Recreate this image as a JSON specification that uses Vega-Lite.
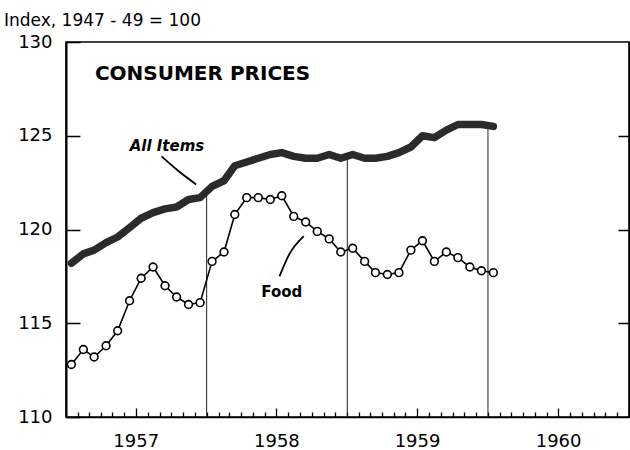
{
  "$schema": "https://vega.github.io/schema/vega-lite/v6.json",
  "width": 563,
  "height": 375,
  "autosize": {"type": "none"},
  "padding": {"left": 66, "top": 42, "right": 1, "bottom": 33},
  "background": "white",
  "config": {
    "view": {"stroke": "black", "strokeWidth": 1.5},
    "font": "DejaVu Sans",
    "axis": {"grid": false, "domainColor": "black", "tickColor": "black", "labelColor": "black", "title": null}
  },
  "title": {
    "text": "Index,  1947 - 49 = 100",
    "anchor": "start",
    "frame": "group",
    "dx": -62,
    "offset": 3,
    "font": "DejaVu Sans",
    "fontSize": 17,
    "fontWeight": "normal",
    "color": "black"
  },
  "datasets": {
    "prices": [
      {"date": "1957-01-15", "all": 118.2, "food": 112.8},
      {"date": "1957-02-15", "all": 118.7, "food": 113.6},
      {"date": "1957-03-15", "all": 118.9, "food": 113.2},
      {"date": "1957-04-15", "all": 119.3, "food": 113.8},
      {"date": "1957-05-15", "all": 119.6, "food": 114.6},
      {"date": "1957-06-15", "all": 120.1, "food": 116.2},
      {"date": "1957-07-15", "all": 120.6, "food": 117.4},
      {"date": "1957-08-15", "all": 120.9, "food": 118.0},
      {"date": "1957-09-15", "all": 121.1, "food": 117.0},
      {"date": "1957-10-15", "all": 121.2, "food": 116.4},
      {"date": "1957-11-15", "all": 121.6, "food": 116.0},
      {"date": "1957-12-15", "all": 121.7, "food": 116.1},
      {"date": "1958-01-15", "all": 122.3, "food": 118.3},
      {"date": "1958-02-15", "all": 122.6, "food": 118.8},
      {"date": "1958-03-15", "all": 123.4, "food": 120.8},
      {"date": "1958-04-15", "all": 123.6, "food": 121.7},
      {"date": "1958-05-15", "all": 123.8, "food": 121.7},
      {"date": "1958-06-15", "all": 124.0, "food": 121.6},
      {"date": "1958-07-15", "all": 124.1, "food": 121.8},
      {"date": "1958-08-15", "all": 123.9, "food": 120.7},
      {"date": "1958-09-15", "all": 123.8, "food": 120.4},
      {"date": "1958-10-15", "all": 123.8, "food": 119.9},
      {"date": "1958-11-15", "all": 124.0, "food": 119.5},
      {"date": "1958-12-15", "all": 123.8, "food": 118.8},
      {"date": "1959-01-15", "all": 124.0, "food": 119.0},
      {"date": "1959-02-15", "all": 123.8, "food": 118.3},
      {"date": "1959-03-15", "all": 123.8, "food": 117.7},
      {"date": "1959-04-15", "all": 123.9, "food": 117.6},
      {"date": "1959-05-15", "all": 124.1, "food": 117.7},
      {"date": "1959-06-15", "all": 124.4, "food": 118.9},
      {"date": "1959-07-15", "all": 125.0, "food": 119.4},
      {"date": "1959-08-15", "all": 124.9, "food": 118.3},
      {"date": "1959-09-15", "all": 125.3, "food": 118.8},
      {"date": "1959-10-15", "all": 125.6, "food": 118.5},
      {"date": "1959-11-15", "all": 125.6, "food": 118.0},
      {"date": "1959-12-15", "all": 125.6, "food": 117.8},
      {"date": "1960-01-15", "all": 125.5, "food": 117.7}
    ],
    "rules": [
      {"date": "1958-01-01", "base": 110, "top": 122.0},
      {"date": "1959-01-01", "base": 110, "top": 123.9},
      {"date": "1960-01-01", "base": 110, "top": 125.5}
    ],
    "notes": [
      {"kind": "heading", "text": "CONSUMER PRICES", "date": "1957-03-17", "value": 128.0},
      {"kind": "series", "text": "All Items", "date": "1957-09-20", "value": 124.2},
      {"kind": "food", "text": "Food", "date": "1958-07-15", "value": 116.4}
    ],
    "leaders": [
      {"id": "all", "date": "1957-09-06", "value": 123.9},
      {"id": "all", "date": "1957-10-15", "value": 123.2},
      {"id": "all", "date": "1957-12-05", "value": 122.4},
      {"id": "food", "date": "1958-07-09", "value": 117.5},
      {"id": "food", "date": "1958-08-04", "value": 118.7},
      {"id": "food", "date": "1958-09-10", "value": 119.65}
    ]
  },
  "layer": [
    {
      "data": {"name": "rules"},
      "mark": {"type": "rule", "color": "#222222", "strokeWidth": 1},
      "encoding": {
        "x": {
          "field": "date", "type": "temporal",
          "scale": {"type": "utc", "domain": [{"year": 1957, "month": 1, "date": 1, "utc": true}, {"year": 1961, "month": 1, "date": 1, "utc": true}]},
          "axis": {
            "orient": "bottom",
            "ticks": true,
            "tickCount": {"interval": "month", "step": 1},
            "tickSize": {"condition": {"test": "utcmonth(datum.value) == 6", "value": -9}, "value": -5},
            "tickWidth": 1.3,
            "domainWidth": 1.5,
            "labelExpr": "utcmonth(datum.value) == 6 ? utcFormat(datum.value, '%Y') : ''",
            "labelOverlap": false,
            "labelFlush": false,
            "labelBound": false,
            "labelPadding": 24,
            "labelFontSize": 18,
            "labelFont": "DejaVu Sans"
          }
        },
        "y": {"field": "base", "type": "quantitative", "scale": {"domain": [110, 130], "nice": false, "zero": false}, "axis": null},
        "y2": {"field": "top"}
      }
    },
    {
      "data": {"name": "prices"},
      "mark": {"type": "line", "color": "#2b2b2b", "strokeWidth": 7.5, "strokeCap": "round", "strokeJoin": "round"},
      "encoding": {
        "x": {"field": "date", "type": "temporal"},
        "y": {
          "field": "all", "type": "quantitative",
          "scale": {"domain": [110, 130], "nice": false, "zero": false},
          "axis": {
            "orient": "left",
            "values": [110, 115, 120, 125, 130],
            "tickSize": -14,
            "tickWidth": 1.5,
            "domainWidth": 2,
            "labelPadding": 28,
            "labelFontSize": 18,
            "labelFont": "DejaVu Sans"
          }
        }
      }
    },
    {
      "data": {"name": "prices"},
      "mark": {"type": "line", "color": "black", "strokeWidth": 1.6},
      "encoding": {
        "x": {"field": "date", "type": "temporal"},
        "y": {
          "field": "food", "type": "quantitative",
          "scale": {"domain": [110, 130], "nice": false, "zero": false},
          "axis": {"orient": "right", "values": [115, 120, 125], "tickSize": -11, "tickWidth": 1.5, "labels": false, "domainWidth": 1.5}
        }
      }
    },
    {
      "data": {"name": "prices"},
      "mark": {"type": "point", "filled": true, "fill": "white", "stroke": "black", "strokeWidth": 1.6, "size": 60, "opacity": 1},
      "encoding": {
        "x": {"field": "date", "type": "temporal"},
        "y": {"field": "food", "type": "quantitative", "axis": null}
      }
    },
    {
      "data": {"name": "leaders"},
      "mark": {"type": "line", "color": "black", "strokeWidth": 1.8, "interpolate": "monotone"},
      "encoding": {
        "x": {"field": "date", "type": "temporal"},
        "y": {"field": "value", "type": "quantitative", "axis": null},
        "detail": {"field": "id", "type": "nominal"}
      }
    },
    {
      "data": {"name": "notes"},
      "transform": [{"filter": "datum.kind == 'heading'"}],
      "mark": {"type": "text", "align": "left", "baseline": "alphabetic", "font": "DejaVu Sans", "fontWeight": "bold", "fontSize": 20, "color": "black"},
      "encoding": {
        "x": {"field": "date", "type": "temporal"},
        "y": {"field": "value", "type": "quantitative", "axis": null},
        "text": {"field": "text"}
      }
    },
    {
      "data": {"name": "notes"},
      "transform": [{"filter": "datum.kind == 'series'"}],
      "mark": {"type": "text", "align": "center", "baseline": "alphabetic", "font": "DejaVu Sans", "fontWeight": "bold", "fontStyle": "italic", "fontSize": 15, "color": "black"},
      "encoding": {
        "x": {"field": "date", "type": "temporal"},
        "y": {"field": "value", "type": "quantitative", "axis": null},
        "text": {"field": "text"}
      }
    },
    {
      "data": {"name": "notes"},
      "transform": [{"filter": "datum.kind == 'food'"}],
      "mark": {"type": "text", "align": "center", "baseline": "alphabetic", "font": "DejaVu Sans", "fontWeight": "bold", "fontSize": 15, "color": "black"},
      "encoding": {
        "x": {"field": "date", "type": "temporal"},
        "y": {"field": "value", "type": "quantitative", "axis": null},
        "text": {"field": "text"}
      }
    }
  ],
  "resolve": {"axis": {"y": "independent"}}
}
